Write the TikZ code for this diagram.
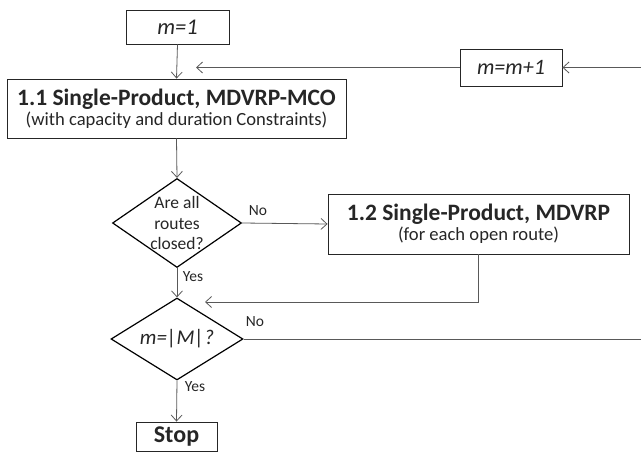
\documentclass[tikz,border=0pt]{standalone}
\usepackage{fontspec}
\setmainfont{Carlito}
\usetikzlibrary{shapes.geometric,arrows.meta}
\begin{document}
\begin{tikzpicture}[x=1pt,y=-1pt,
  box/.style={draw=black!85,line width=0.9pt,inner sep=0pt,align=center,text=black!85},
  dia/.style={draw=black,line width=1.2pt,shape=diamond,inner sep=0pt},
  conn/.style={draw=black!65,line width=0.8pt},
  arr/.style={conn,-{Straight Barb[length=6pt,width=11pt,line width=0.8pt]}},
  lab/.style={font=\fontsize{15.5}{17}\selectfont,text=black!85,inner sep=0pt}]
\useasboundingbox (0,0) rectangle (641,460);

\node[box,minimum width=103pt,minimum height=34pt,font=\fontsize{22.5}{24}\selectfont\itshape] (m1) at (177.5,27) {m=1};
\node[box,minimum width=102pt,minimum height=37pt,font=\fontsize{22}{24}\selectfont\itshape] (mm1) at (511,67.5) {m=m+1};
\node[box,minimum width=339pt,minimum height=59pt] (b11) at (176.5,108.5)
  {{\fontsize{23.5}{25}\selectfont\bfseries 1.1 Single-Product, MDVRP-MCO}\\[1pt]{\fontsize{18.6}{20}\selectfont (with capacity and duration Constraints)}};
\node[box,minimum width=301pt,minimum height=60pt] (b12) at (478.5,224)
  {{\fontsize{23.5}{25}\selectfont\bfseries 1.2 Single-Product, MDVRP}\\[1pt]{\fontsize{18.6}{20}\selectfont (for each open route)}};
\node[dia,minimum width=129pt,minimum height=89pt,
  label={[align=center,font=\fontsize{17.5}{20.5}\selectfont,text=black!85]center:Are all\\routes\\closed?}] (d1) at (177,223) {};
\node[dia,minimum width=132pt,minimum height=82pt,
  label={[font=\fontsize{21}{23}\selectfont\itshape,text=black!85]center:m=|M|?}] (d2) at (177,339) {};
\node[box,minimum width=81pt,minimum height=29pt,font=\fontsize{24}{26}\selectfont\bfseries] (stop) at (176.5,436.5) {Stop};

\coordinate (rin) at (641,67.5);
\coordinate (jtop) at (196,67.5);
\coordinate (rout) at (641,339);
\coordinate (fb) at (205,302);

\draw[arr] (m1.south) -- (b11.north);
\draw[arr] (rin) -- (mm1.east);
\draw[arr] (mm1.west) -- (jtop);
\draw[arr] (b11.south) -- (d1.north);
\draw[arr] (d1.east) -- (b12.west);
\draw[arr] (d1.south) -- (d2.north);
\draw[arr] (b12.south) |- (fb);
\draw[conn] (d2.east) -- (rout);
\draw[arr] (d2.south) -- (stop.north);

\node[lab] (no1) at (258,211) {No};
\node[lab] (yes1) at (193,277) {Yes};
\node[lab] (no2) at (255,322) {No};
\node[lab] (yes2) at (195,387) {Yes};
\end{tikzpicture}
\end{document}
